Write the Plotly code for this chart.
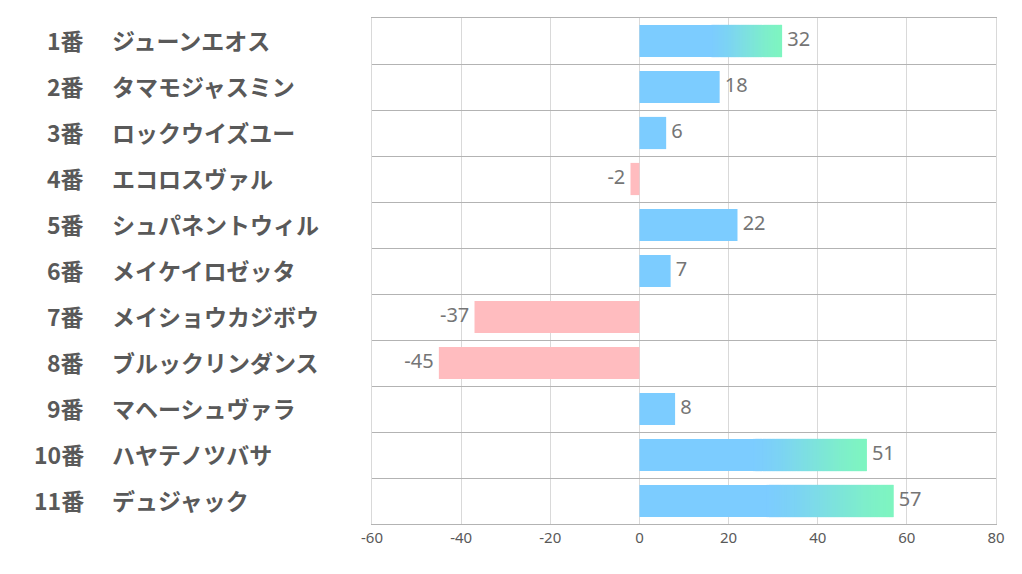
import plotly.graph_objects as go

numbers = ["1番", "2番", "3番", "4番", "5番", "6番", "7番", "8番", "9番", "10番", "11番"]
horses = ["ジューンエオス", "タマモジャスミン", "ロックウイズユー", "エコロスヴァル", "シュパネントウィル",
          "メイケイロゼッタ", "メイショウカジボウ", "ブルックリンダンス", "マヘーシュヴァラ", "ハヤテノツバサ", "デュジャック"]
values = [32, 18, 6, -2, 22, 7, -37, -45, 8, 51, 57]
x_ticks = [-60, -40, -20, 0, 20, 40, 60, 80]

BLUE = (124, 204, 255)
GREEN = (126, 245, 192)
PINK = (255, 188, 191)
BAR_W = 0.7
N_SEG = 50
GRAD_START = 0.5

def rgb(c):
    return f"rgb({c[0]},{c[1]},{c[2]})"

top3 = sorted(values, reverse=True)[:3]

fig = go.Figure()

plain_x, plain_base, plain_col, plain_y = [], [], [], []
grad_x, grad_base, grad_col, grad_y = [], [], [], []
for i, v in enumerate(values):
    if v < 0:
        plain_x.append(v); plain_base.append(0); plain_col.append(rgb(PINK)); plain_y.append(i)
    elif v in top3:
        s = v * GRAD_START
        seg = (v - s) / N_SEG
        plain_x.append(s + seg); plain_base.append(0); plain_col.append(rgb(BLUE)); plain_y.append(i)
        for k in range(N_SEG):
            t = (k + 0.5) / N_SEG
            t = t * t * (3 - 2 * t) * 0.5 + t * 0.5
            c = tuple(round(BLUE[j] + (GREEN[j] - BLUE[j]) * t) for j in range(3))
            b0 = s + k * seg
            w = seg * 2 if k < N_SEG - 1 else seg
            grad_x.append(w); grad_base.append(b0); grad_col.append(rgb(c)); grad_y.append(i)
    else:
        plain_x.append(v); plain_base.append(0); plain_col.append(rgb(BLUE)); plain_y.append(i)

fig.add_trace(go.Bar(x=plain_x, y=plain_y, base=plain_base, orientation="h", width=BAR_W,
                     marker=dict(color=plain_col, line=dict(width=0)), hoverinfo="skip"))
fig.add_trace(go.Bar(x=grad_x, y=grad_y, base=grad_base, orientation="h", width=BAR_W,
                     marker=dict(color=grad_col, line=dict(width=0)), hoverinfo="skip"))

pos = [(v, i) for i, v in enumerate(values) if v >= 0]
neg = [(v, i) for i, v in enumerate(values) if v < 0]
fig.add_trace(go.Scatter(x=[p[0] for p in pos], y=[p[1] for p in pos], mode="text",
                         text=[f" {p[0]}" for p in pos], textposition="middle right",
                         textfont=dict(size=20, color="#757575", family="Noto Sans, sans-serif"), hoverinfo="skip"))
fig.add_trace(go.Scatter(x=[p[0] for p in neg], y=[p[1] for p in neg], mode="text",
                         text=[f"{p[0]} " for p in neg], textposition="middle left",
                         textfont=dict(size=20, color="#757575", family="Noto Sans, sans-serif"), hoverinfo="skip"))

PLOT_L, PLOT_R = 372, 996
pw = PLOT_R - PLOT_L
LABEL_FONT = dict(size=23, color="#595959", family="Noto Sans CJK JP")
for i, (n, h) in enumerate(zip(numbers, horses)):
    fig.add_annotation(x=(86 - PLOT_L) / pw, y=i - 0.03, xref="paper", yref="y", text=f"<b>{n}</b>", showarrow=False,
                       xanchor="right", yanchor="middle", font=LABEL_FONT)
    fig.add_annotation(x=(110 - PLOT_L) / pw, y=i - 0.03, xref="paper", yref="y", text=f"<b>{h}</b>", showarrow=False,
                       xanchor="left", yanchor="middle", font=LABEL_FONT)

fig.update_layout(
    width=1022, height=574,
    margin=dict(l=PLOT_L, r=1022 - PLOT_R, t=18, b=50),
    paper_bgcolor="white", plot_bgcolor="white",
    showlegend=False, barmode="overlay",
    xaxis=dict(range=[-60, 80], tickvals=x_ticks, ticktext=[str(t) for t in x_ticks],
               showgrid=True, gridcolor="#d9d9d9", gridwidth=1, zeroline=False,
               showline=True, mirror=True, linecolor="#b3b3b3", linewidth=1,
               tickfont=dict(size=15, color="#595959", family="Noto Sans, sans-serif"),
               ticks="", fixedrange=True),
    yaxis=dict(range=[10.5, -0.5], tickvals=[k - 0.5 for k in range(len(values) + 1)],
               showticklabels=False, showgrid=True, gridcolor="#b3b3b3", gridwidth=1,
               zeroline=False, showline=True, mirror=True, linecolor="#d9d9d9", linewidth=1,
               ticks="", fixedrange=True),
)

fig.write_html("out.html", config={"displayModeBar": False},
               post_script="document.body.style.margin='0';")
